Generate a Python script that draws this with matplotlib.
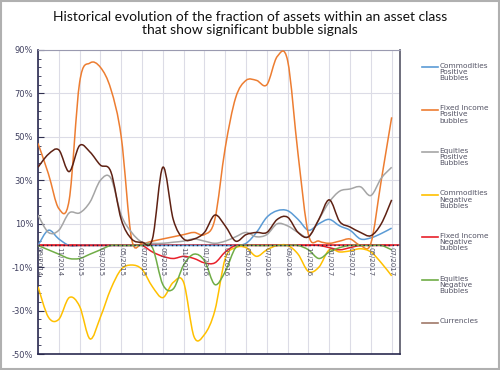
import numpy as np
import matplotlib
matplotlib.use("Agg")
import matplotlib.pyplot as plt
from matplotlib.path import Path
from matplotlib.patches import PathPatch, Rectangle
from matplotlib.lines import Line2D

# monthly readings, 09/2014 .. 07/2017 (values in %)
tick_labels = ["09/2014", "11/2014", "01/2015", "03/2015", "05/2015", "07/2015",
               "09/2015", "11/2015", "01/2016", "03/2016", "05/2016", "07/2016",
               "09/2016", "11/2016", "01/2017", "03/2017", "05/2017", "07/2017"]

commodities_pos = [0, 7, 3, 0, 0, 0, 0, 0, 0, 0, 0, 0, 0, 0, 0, 0, 0, 0, 0, 0,
                   1, 6, 13, 16, 16, 12, 7, 10, 12, 9, 7, 3, 3.5, 5.5, 8]
fixed_income_pos = [47, 33, 17, 21, 75, 84, 82, 72, 50, 3, 1, 2, 3, 4, 5, 6, 5, 12,
                    45, 68, 76, 76, 74, 87, 85, 42, 5, 2, 1, 2, 3, 0, 1, 30, 59]
equities_pos = [14, 6, 7, 15, 15, 20, 30, 31, 14, 6, 1.5, 1, 1, 1.5, 2, 3, 2, 1,
                2, 4, 6, 4, 5, 10, 9, 6, 4, 12, 20, 25, 26, 27, 23, 31, 36]
commodities_neg = [-19, -33, -34, -24, -28, -43, -33, -20, -11, -9, -11, -19, -24,
                   -17, -17, -42, -41, -30, -6, -1, -1, -5, -2, 0, 0, -4, -12, -10,
                   -2, -3, -2.5, -1.5, -3, -8, -14]
fixed_income_neg = [0, 0, 0, 0, 0, 0, 0, 0, 0, 0, 0, -3, -5, -6, -5, -6, -8, -8,
                    -3, 0, 0, 0, 0, 0, 0, 0, 0, 0, -1, -2, -1, 0, 0, 0, 0]
equities_neg = [0, -2, -4, -6, -6, -4, -2, 0, 0, 0, 0, -1, -18, -20, -9, -4, -7,
                -18, -12, -1, 0, 0, 0, 0, 0, 0, -2, -6, -3, -1, 0, 0, 0, 0, -2]
currencies = [36, 42, 44, 34, 46, 43, 37, 34, 12, 3, 1.5, 3, 36, 12, 3, 3, 6, 14,
              9, 2, 5, 6, 6, 12, 13, 6, 4, 12, 21, 11, 8.5, 6, 4.5, 10, 21]

series = [
    ("Commodities\nPositive\nBubbles", commodities_pos, "#5b9bd5"),
    ("Fixed Income\nPositive\nbubbles", fixed_income_pos, "#ed7d31"),
    ("Equities\nPositive\nBubbles", equities_pos, "#a5a5a5"),
    ("Commodities\nNegative\nBubbles", commodities_neg, "#ffc000"),
    ("Fixed Income\nNegative\nbubbles", fixed_income_neg, "#e8202a"),
    ("Equities\nNegative\nBubbles", equities_neg, "#70ad47"),
    ("Currencies", currencies, "#5e2113"),
]


def smooth_path(x, y):
    """Catmull-Rom curve drawn as cubic bezier segments (like Excel's smoothed line)"""
    pts = np.column_stack([x, y]).astype(float)
    ext = np.vstack([pts[0], pts, pts[-1]])
    verts = [pts[0]]
    codes = [Path.MOVETO]
    for i in range(1, len(ext) - 2):
        p0, p1, p2, p3 = ext[i - 1], ext[i], ext[i + 1], ext[i + 2]
        verts += [p1 + (p2 - p0) / 6, p2 - (p3 - p1) / 6, p2]
        codes += [Path.CURVE4] * 3
    return Path(verts, codes)


fig = plt.figure(figsize=(5, 3.7), dpi=100)
fig.patches.append(Rectangle((0.002, 0.003), 0.996, 0.994, transform=fig.transFigure,
                             fill=False, edgecolor="#b0b0b0", linewidth=1.5))
ax = fig.add_axes([0.076, 0.043, 0.724, 0.822])

x = np.arange(len(currencies))
ax.axhline(0, color="#e8202a", linewidth=1.2, zorder=2)
for label, vals, color in series:
    ax.add_patch(PathPatch(smooth_path(x, vals), fill=False, edgecolor=color,
                           linewidth=1.1, zorder=3))
ax.axhline(0, color="#222244", linewidth=1.0, linestyle=(0, (1, 2)), zorder=4)

ax.set_xlim(0, 34.8)
ax.set_ylim(-50, 90)
ax.set_yticks(np.arange(-50, 91, 20))
ax.set_yticklabels([f"{v}%" for v in range(-50, 91, 20)], fontsize=6, color="#404060")
ax.set_yticks(np.arange(-50, 91, 4), minor=True)
ax.tick_params(axis="y", which="major", direction="in", length=4, color="#303050")
ax.tick_params(axis="y", which="minor", direction="in", length=2, color="#303050")
ax.set_xticks(np.arange(0, 35, 2))
ax.set_xticklabels([])
ax.tick_params(axis="x", length=0)
ax.grid(True, color="#dcdce6", linewidth=0.8)
ax.set_axisbelow(True)

for i, lab in enumerate(tick_labels):
    ax.text(2 * i, -0.8, lab, rotation=270, ha="center", va="top", fontsize=5,
            color="#555566", zorder=5)

for side in ["left", "bottom"]:
    ax.spines[side].set_color("#2a2a50")
    ax.spines[side].set_linewidth(1.2)
ax.spines["top"].set_color("#9a9ab0")
ax.spines["right"].set_color("#555566")
ax.spines["right"].set_linewidth(1.2)

# legend drawn by hand: handle level with the first text line
for i, (label, _, color) in enumerate(series):
    y = 1 - (67 + 42.6 * i) / 370
    if label == "Currencies":
        color = "#a07868"
    fig.add_artist(Line2D([0.844, 0.876], [y, y], color=color, linewidth=1.2))
    fig.text(0.879, y + 0.012, label, ha="left", va="top", fontsize=5.3,
             color="#555566", linespacing=1.05)

fig.text(0.5, 0.97, "Historical evolution of the fraction of assets within an asset class\n"
         "that show significant bubble signals", ha="center", va="top",
         fontsize=10, family="Lato", linespacing=1.12, color="#111111")

fig.savefig("out.png", dpi=100)
